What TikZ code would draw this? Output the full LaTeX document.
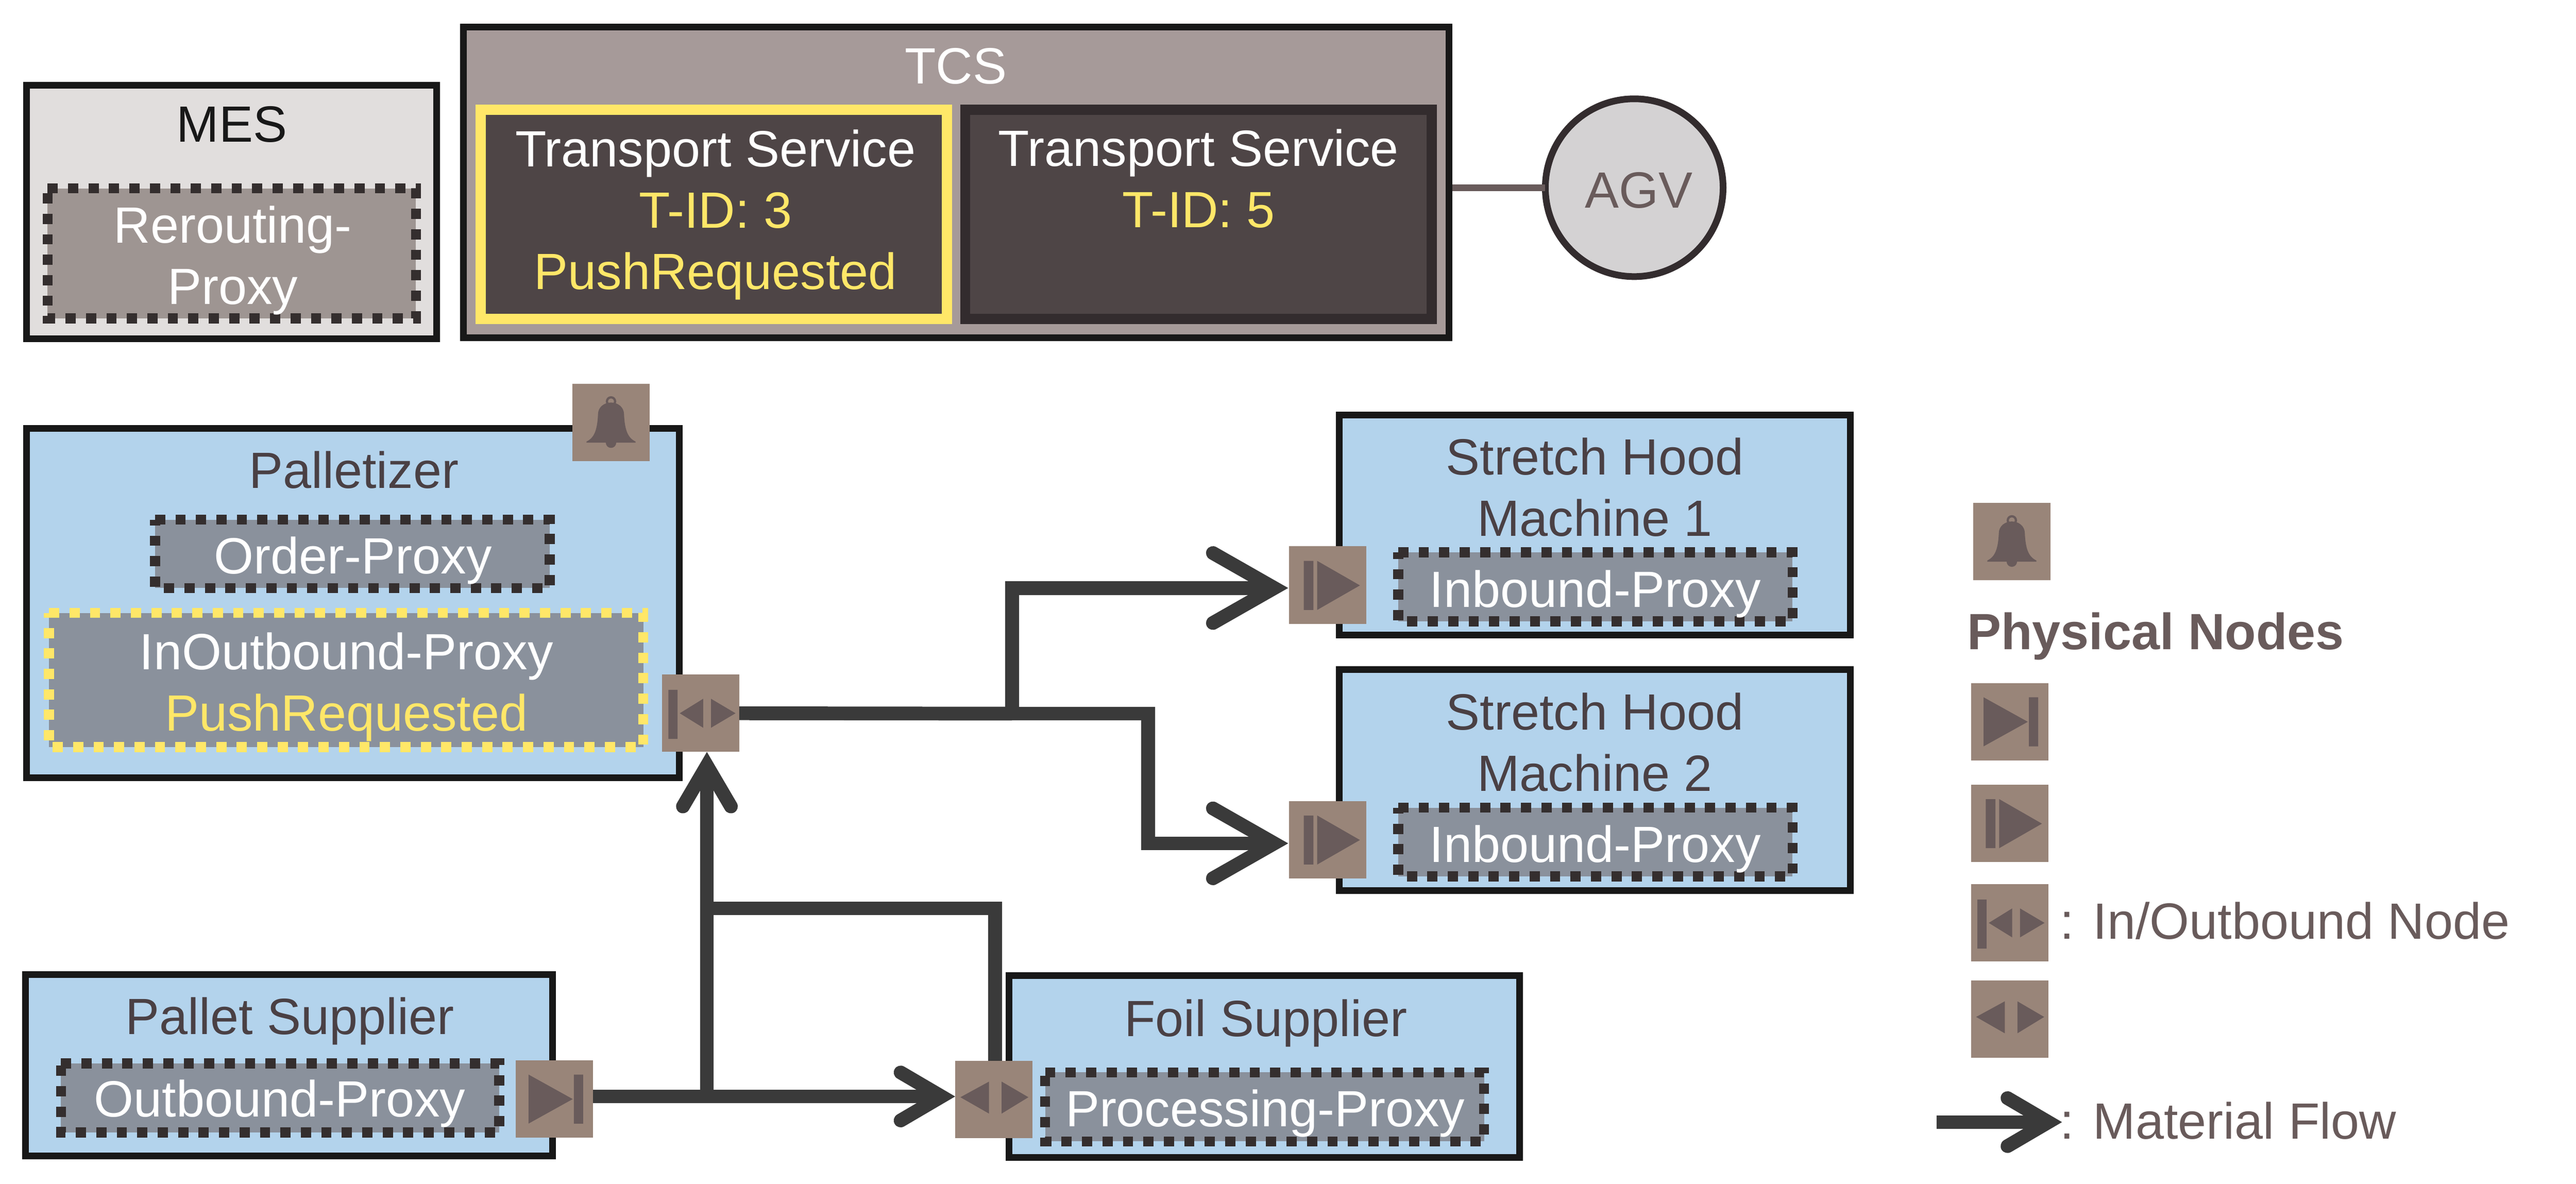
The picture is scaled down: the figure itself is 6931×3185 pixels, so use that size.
\documentclass[tikz,border=0pt]{standalone}
\usepackage{fontspec}
\setmainfont{Liberation Sans}
\usetikzlibrary{arrows.meta,calc}
\definecolor{frame}{HTML}{181818}
\definecolor{blue}{HTML}{B3D3EC}
\definecolor{mesfill}{HTML}{E1DEDD}
\definecolor{rerfill}{HTML}{9E9592}
\definecolor{tcsfill}{HTML}{A69A99}
\definecolor{tsfill}{HTML}{4E4546}
\definecolor{tsedge}{HTML}{332C2E}
\definecolor{hl}{HTML}{FFE768}
\definecolor{proxyfill}{HTML}{8A919C}
\definecolor{dashc}{HTML}{342E2E}
\definecolor{ink}{HTML}{4A4044}
\definecolor{icon}{HTML}{998579}
\definecolor{glyph}{HTML}{695B5B}
\definecolor{flowc}{HTML}{3A3A3A}
\definecolor{agvfill}{HTML}{D4D2D3}
\tikzset{
  box/.style={draw=frame,line width=0.18cm,inner sep=0pt,outer sep=0pt,rectangle},
  machine/.style={box,fill=blue},
  service/.style={rectangle,draw=tsedge,fill=tsfill,line width=0.27cm,inner sep=0pt,outer sep=0pt},
  servicehl/.style={service,draw=hl},
  proxy/.style={rectangle,fill=proxyfill,inner sep=0pt,outer sep=0pt},
  reroute/.style={proxy,fill=rerfill},
  dk/.style={draw=dashc,line width=0.27cm,dash pattern=on 0.275cm off 0.275cm},
  yl/.style={dk,draw=hl},
  txt/.style={font=\fontsize{39}{46.95}\selectfont,inner sep=0pt,outer sep=0pt,anchor=base,align=center,yshift=-0.03cm},
  ltxt/.style={txt,anchor=base west,text=glyph},
  iconbox/.style={rectangle,fill=icon,inner sep=0pt,outer sep=0pt,minimum width=2.08cm,minimum height=2.08cm},
  flow/.style={draw=flowc,line width=0.37cm},
  bigflow/.style={flow,-{Straight Barb[length=1.65cm,width=1.88cm,line width=0.37cm,line cap=round,line join=miter]}},
  smallflow/.style={flow,-{Straight Barb[length=1.1cm,width=1.29cm,line width=0.37cm,line cap=round,line join=miter]}},
}
\newcommand{\bx}[6]{\node[#1,minimum width={(#5-#3)*0.01cm},minimum height={(#6-#4)*0.01cm}] (#2) at ({(#3+#5)/2},{(#4+#6)/2}) {};}
% proxy: filled node, then its dotted border running clockwise from the top left corner
\newcommand{\pxy}[7]{\bx{#1}{#3}{#4}{#5}{#6}{#7}
  \draw[#2] (#3.north west) -- (#3.north east) -- (#3.south east) -- (#3.south west) -- cycle;}
\newcommand{\icoout}[3]{\node[iconbox] (#1) at (#2+104,#3+104) {};
  \begin{scope}[shift={(#2,#3)}]\fill[glyph] (34,38)--(34,170)--(153,104)--cycle (156,38) rectangle (181,170);\end{scope}}
\newcommand{\icoin}[3]{\node[iconbox] (#1) at (#2+104,#3+104) {};
  \begin{scope}[shift={(#2,#3)}]\fill[glyph] (40,39) rectangle (66,171) (76,39)--(76,171)--(191,105)--cycle;\end{scope}}
\newcommand{\icoio}[3]{\node[iconbox] (#1) at (#2+104,#3+104) {};
  \begin{scope}[shift={(#2,#3)}]\fill[glyph] (17.5,41) rectangle (42,173) (48,104)--(111,65)--(111,143)--cycle (132,65)--(132,143)--(198,104)--cycle;\end{scope}}
\newcommand{\icoboth}[3]{\node[iconbox] (#1) at (#2+104,#3+104) {};
  \begin{scope}[shift={(#2,#3)}]\fill[glyph] (14,98)--(91,56)--(91,142)--cycle (125,56)--(125,142)--(197,98)--cycle;\end{scope}}
\newcommand{\icobell}[3]{\node[iconbox] (#1) at (#2+104,#3+104) {};
  \begin{scope}[shift={(#2+104,#3+104)}]
  \fill[glyph] (-66,54) -- (-66,51) .. controls (-45,41) and (-37,20) .. (-35,-22) .. controls (-35,-42) and (-18,-54) .. (0,-54) .. controls (18,-54) and (35,-42) .. (35,-22) .. controls (37,20) and (45,41) .. (66,51) -- (66,54) -- cycle;
  \fill[glyph] (0,54) circle (0.14cm);
  \draw[glyph,line width=0.06cm] (0,-57) circle (0.11cm);
  \end{scope}}
\begin{document}
\begin{tikzpicture}[x=0.01cm,y=-0.01cm]
\useasboundingbox[fill=white] (0,0) rectangle (6931,3185);
% MES
\bx{box,fill=mesfill}{mes}{71}{229}{1175}{912}
\node[txt,text=frame] (mest) at (624,379) {MES};
\pxy{reroute}{dk}{rer}{128}{507}{1119}{857}
\node[txt,text=white] (rert) at (626,816) {Rerouting-\\Proxy};
% TCS
\bx{box,fill=tcsfill}{tcs}{1247}{73}{3899}{909}
\node[txt,text=white] (tcst) at (2572,222) {TCS};
\bx{servicehl}{ts1}{1293.5}{295}{2548}{858}
\node[txt,text=white] (ts1t) at (1925,775) {Transport Service\\\color{hl}T-ID: 3\\\color{hl}PushRequested};
\bx{service}{ts2}{2597}{295}{3852}{858}
\node[txt,text=white] (ts2t) at (3225,609) {Transport Service\\\color{hl}T-ID: 5};
% AGV
\node[circle,draw=tsedge,fill=agvfill,line width=0.18cm,minimum size=4.78cm,inner sep=0pt,outer sep=0pt] (agv) at (4397,505) {};
\node[txt,text=glyph] (agvt) at (4410,557) {AGV};
\draw[glyph,line width=0.18cm] ($(tcs.east |- agv.west)+(9,0)$) -- ($(agv.west)+(-1,0)$);
% Palletizer
\bx{machine}{pal}{71}{1152}{1827}{2093}
\node[txt,text=ink] (palt) at (952,1311) {Palletizer};
\pxy{proxy}{dk}{ord}{417}{1398}{1479}{1582}
\node[txt,text=white] (ordt) at (950,1541) {Order-Proxy};
\pxy{proxy}{yl}{iop}{132}{1649}{1731}{2010}
\node[txt,text=white] (iopt) at (932,1964) {InOutbound-Proxy\\\color{hl}PushRequested};
\icobell{palbell}{1540}{1033}
\icoio{palio}{1781}{1815}
% Pallet supplier
\bx{machine}{psup}{69}{2622}{1487}{3110}
\node[txt,text=ink] (psupt) at (780,2780) {Pallet Supplier};
\pxy{proxy}{dk}{out}{164}{2861}{1343}{3047}
\node[txt,text=white] (outt) at (753,3001) {Outbound-Proxy};
\icoout{psupo}{1388}{2853}
% Foil supplier
\bx{machine}{foil}{2715}{2625}{4089}{3114}
\node[txt,text=ink] (foilt) at (3406,2786) {Foil Supplier};
\pxy{proxy}{dk}{proc}{2812}{2885}{3993}{3071}
\node[txt,text=white] (proct) at (3404,3028) {Processing-Proxy};
\icoboth{foili}{2570}{2854}
% Stretch hood 1
\bx{machine}{sh1}{3604}{1116}{4979}{1708}
\node[txt,text=ink] (sh1t) at (4291,1439) {Stretch Hood\\Machine 1};
\pxy{proxy}{dk}{ib1}{3762}{1486}{4823}{1672}
\node[txt,text=white] (ib1t) at (4292,1630) {Inbound-Proxy};
\icoin{sh1i}{3468}{1470}
% Stretch hood 2
\bx{machine}{sh2}{3604}{1802}{4979}{2396}
\node[txt,text=ink] (sh2t) at (4291,2126) {Stretch Hood\\Machine 2};
\pxy{proxy}{dk}{ib2}{3762}{2173}{4823}{2358}
\node[txt,text=white] (ib2t) at (4292,2317) {Inbound-Proxy};
\icoin{sh2i}{3468}{2155}
% connectors
\coordinate (j1) at (2723,1920);
\coordinate (j2) at (3089,1920);
\coordinate (j3) at (1902,2950);
\coordinate (j4) at (1902,2444);
\draw[flow] (palio.east) -- (j1);
\draw[bigflow] (j1) -- (j2) |- ($(sh2i.west)+(-2,10)$);
\draw[bigflow] (j1) |- ($(sh1i.west)+(-2,8)$);
\draw[smallflow] ($(psupo.east)+(0,-7)$) -- ($(foili.west)+(0,-8)$);
\draw[smallflow] (j3) -- ($(palio.south)+(17,0)$);
\draw[flow] (j4) -| ($(foili.north)+(3,0)$);
% legend
\icobell{lbell}{5309}{1353}
\node[ltxt,font=\fontsize{39}{46.95}\selectfont\bfseries] (lphys) at (5293,1744) {Physical Nodes};
\icoout{lout}{5303}{1838}
\icoin{lin}{5303}{2111}
\icoio{lio}{5303}{2379}
\node[ltxt] (liot) at (5543,2524) {: In/Outbound Node};
\icoboth{lboth}{5303}{2638}
\coordinate (lfa) at (5211,3019);
\coordinate (lfb) at (5548,3019);
\draw[smallflow] (lfa) -- (lfb);
\node[ltxt] (lflow) at (5543,3061) {: Material Flow};
\end{tikzpicture}
\end{document}
